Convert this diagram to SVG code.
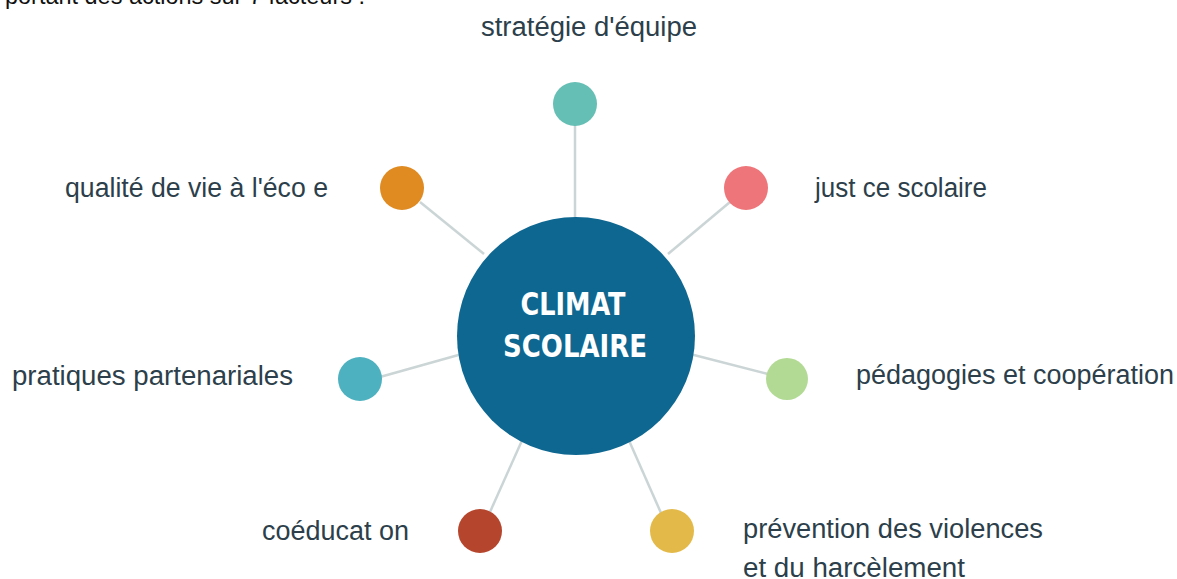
<svg xmlns="http://www.w3.org/2000/svg" width="1177" height="579" viewBox="0 0 1177 579">
<style>
.lbl{font-family:"Liberation Sans","DejaVu Sans",sans-serif;font-size:27px;fill:#2c3f4b}
.hdr{font-family:"Liberation Sans",Arial,sans-serif;font-size:23px;fill:#111}
.ctr{font-family:"DejaVu Sans Condensed","Liberation Sans",sans-serif;font-size:32px;font-weight:bold;fill:#ffffff}
.con line{stroke:#cbd5d5;stroke-width:2.5;fill:none}
</style>
<rect width="1177" height="579" fill="#ffffff"/>
<text class="hdr" x="5" y="4" textLength="360" lengthAdjust="spacingAndGlyphs">portant des actions sur 7 facteurs :</text>
<g id="connectors" class="con">
<line x1="575" y1="124" x2="575" y2="224"/>
<line x1="420" y1="202" x2="484" y2="254"/>
<line x1="730" y1="202" x2="668" y2="254"/>
<line x1="380" y1="377" x2="462" y2="354"/>
<line x1="690" y1="354" x2="768" y2="374"/>
<line x1="524" y1="436" x2="490" y2="512"/>
<line x1="627" y1="436" x2="661" y2="513"/>
</g>
<g id="center">
<circle cx="576" cy="336" r="119" fill="#0e6791"/>
<text class="ctr" x="573" y="315" text-anchor="middle" textLength="105" lengthAdjust="spacingAndGlyphs">CLIMAT</text>
<text class="ctr" x="575" y="357" text-anchor="middle" textLength="144" lengthAdjust="spacingAndGlyphs">SCOLAIRE</text>
</g>
<g id="n-strategie">
<circle cx="575" cy="104" r="22" fill="#66bfb4"/>
<text class="lbl" x="481" y="36" textLength="216" lengthAdjust="spacingAndGlyphs">stratégie d'équipe</text>
</g>
<g id="n-qualite">
<circle cx="402" cy="188" r="22" fill="#df8b22"/>
<text class="lbl" x="65" y="197" textLength="263" lengthAdjust="spacingAndGlyphs">qualité de vie à l'éco e</text>
</g>
<g id="n-justice">
<circle cx="746" cy="188" r="22" fill="#ee7579"/>
<text class="lbl" x="815" y="197" textLength="172" lengthAdjust="spacingAndGlyphs">just ce scolaire</text>
</g>
<g id="n-pratiques">
<circle cx="360" cy="379" r="22" fill="#4db1bf"/>
<text class="lbl" x="12" y="385" textLength="281" lengthAdjust="spacingAndGlyphs">pratiques partenariales</text>
</g>
<g id="n-pedagogies">
<circle cx="787" cy="379" r="21" fill="#b3da95"/>
<text class="lbl" x="856" y="384" textLength="318" lengthAdjust="spacingAndGlyphs">pédagogies et coopération</text>
</g>
<g id="n-coeducation">
<circle cx="480" cy="531" r="22" fill="#b5452c"/>
<text class="lbl" x="262" y="540" textLength="147" lengthAdjust="spacingAndGlyphs">coéducat on</text>
</g>
<g id="n-prevention">
<circle cx="672" cy="531" r="22" fill="#e3ba4a"/>
<text class="lbl" x="743" y="538" textLength="300" lengthAdjust="spacingAndGlyphs">prévention des violences</text>
<text class="lbl" x="743" y="577" textLength="222" lengthAdjust="spacingAndGlyphs">et du harcèlement</text>
</g>
</svg>
